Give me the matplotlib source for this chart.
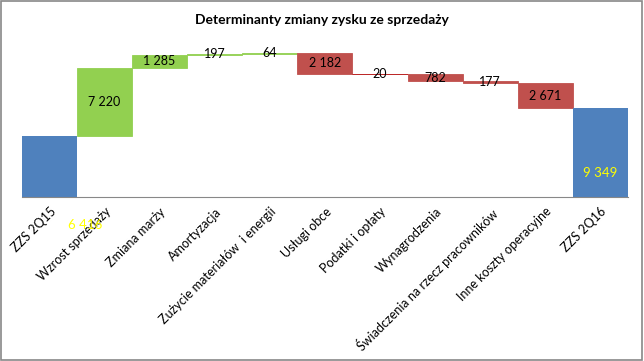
import numpy as np
import matplotlib.pyplot as plt

plt.rcParams['font.family'] = ['Lato', 'DejaVu Sans']

categories = ['ZZS 2Q15', 'Wzrost sprzedaży', 'Zmiana marży', 'Amortyzacja',
              'Zużycie materiałów  i energii', 'Usługi obce', 'Podatki i opłaty',
              'Wynagrodzenia', 'Świadczenia na rzecz pracowników',
              'Inne koszty operacyjne', 'ZZS 2Q16']
start = 6416
changes = [7220, 1285, 197, 64, -2182, -20, -782, -177, -2671]
end = 9349

blue = '#4F81BD'
green = '#92D050'
red = '#C0504D'

fig = plt.figure(figsize=(6.44, 3.61), dpi=100)
ax = fig.add_axes([0.034, 0.454, 0.941, 0.421])

x = np.arange(len(categories))
# starting total
ax.bar(x[0], start, width=1.0, color=blue)
level = start
for i, c in enumerate(changes, start=1):
    bottom = level if c > 0 else level + c
    col = green if c > 0 else red
    if abs(c) < 50:
        col = '#B00000'
    ax.bar(x[i], abs(c), bottom=bottom, width=1.0, color=col,
           edgecolor=col, linewidth=0.6)
    ax.text(x[i], bottom + abs(c) / 2, f'{abs(c):,}'.replace(',', ' '),
            ha='center', va='center', fontsize=9, color='black')
    level += c
ax.bar(x[-1], end, width=1.0, color=blue)

ax.annotate(f'{start:,}'.replace(',', ' '), xy=(x[0], 0), xytext=(26, -20),
            textcoords='offset points', ha='center', va='center',
            fontsize=9.5, color='#FFFF00', annotation_clip=False)
ax.text(x[-1], 2500, f'{end:,}'.replace(',', ' '), ha='center', va='center',
        fontsize=9.5, color='#FFFF00')

ax.set_xlim(-0.5, len(categories) - 0.5)
ax.set_ylim(0, 16000)
ax.set_yticks([])
ax.set_xticks(x)
ax.set_xticklabels(categories, rotation=45, ha='right', rotation_mode='anchor',
                   fontsize=9)
ax.tick_params(axis='x', length=0, pad=6)
for s in ['top', 'right', 'left']:
    ax.spines[s].set_visible(False)
ax.spines['bottom'].set_color('#888888')

fig.text(0.5, 0.945, 'Determinanty zmiany zysku ze sprzedaży', ha='center',
         va='center', fontsize=10, fontweight='bold')

fig.patches.append(plt.Rectangle((0.002, 0.003), 0.995, 0.994, transform=fig.transFigure,
                                 fill=False, edgecolor='#888888', linewidth=1.2))

fig.savefig('out.png', dpi=100)
